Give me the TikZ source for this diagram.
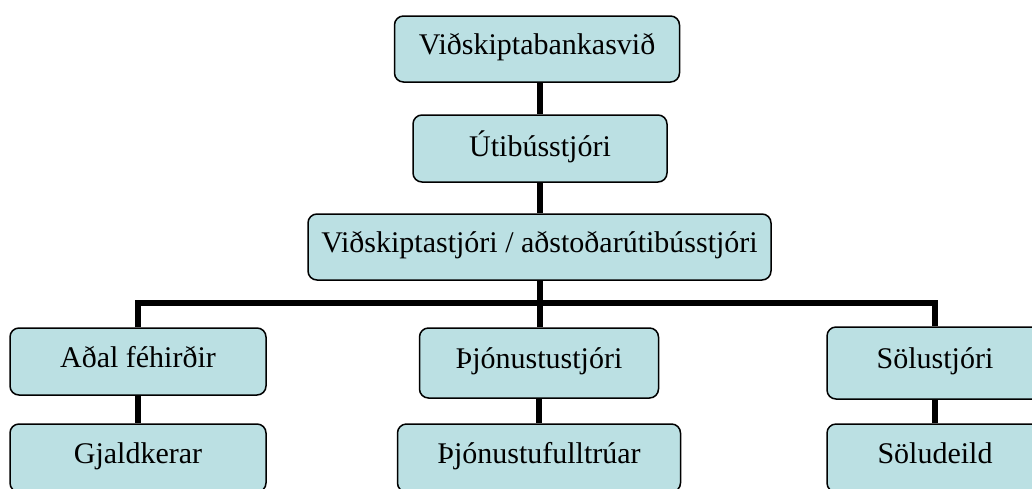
\documentclass[tikz,border=0pt]{standalone}
\usepackage{fontspec}
\setmainfont{Liberation Serif}
\definecolor{boxfill}{RGB}{187,224,227}
\begin{document}
\begin{tikzpicture}[x=1pt,y=-1pt,
  box/.style={draw=black, line width=1.5pt, fill=boxfill, rounded corners=9pt,
    inner sep=0pt, font=\fontsize{30}{36}\selectfont, text depth=10pt, anchor=center},
  conn/.style={draw=black, line width=6pt}]
\useasboundingbox (0,0) rectangle (1032,488);
\clip (0,0) rectangle (1032,488);
\node[box, minimum width=285pt, minimum height=66pt] (b1) at (537,49) {Viðskiptabankasvið};
\node[box, minimum width=254pt, minimum height=67pt] (b2) at (540,148.5) {Útibússtjóri};
\node[box, minimum width=463pt, minimum height=66pt] (b3) at (539.5,247) {Viðskiptastjóri / aðstoðarútibússtjóri};
\node[box, minimum width=256pt, minimum height=67pt] (b4) at (138,361.5) {Aðal féhirðir};
\node[box, minimum width=256pt, minimum height=68pt] (b5) at (138,458) {Gjaldkerar};
\node[box, minimum width=239pt, minimum height=70pt] (b6) at (539,363) {Þjónustustjóri};
\node[box, minimum width=283pt, minimum height=68pt] (b7) at (539,458) {Þjónustufulltrúar};
\node[box, minimum width=216pt, minimum height=72pt] (b8) at (935,363) {Sölustjóri};
\node[box, minimum width=216pt, minimum height=68pt] (b9) at (935,458) {Söludeild};
\coordinate (bus) at (540,303);
\draw[conn] (b1.south -| b2.north) -- (b2.north);
\draw[conn] (b2.south) -- (b2.south |- b3.north);
\draw[conn] (b3.south -| b2.south) -- (b2.south |- b6.north);
\draw[conn] (b4.north) |- (bus) -| (b8.north);
\draw[conn] (b4.south) -- (b5.north);
\draw[conn] (b6.south) -- (b7.north);
\draw[conn] (b8.south) -- (b9.north);
\end{tikzpicture}
\end{document}
